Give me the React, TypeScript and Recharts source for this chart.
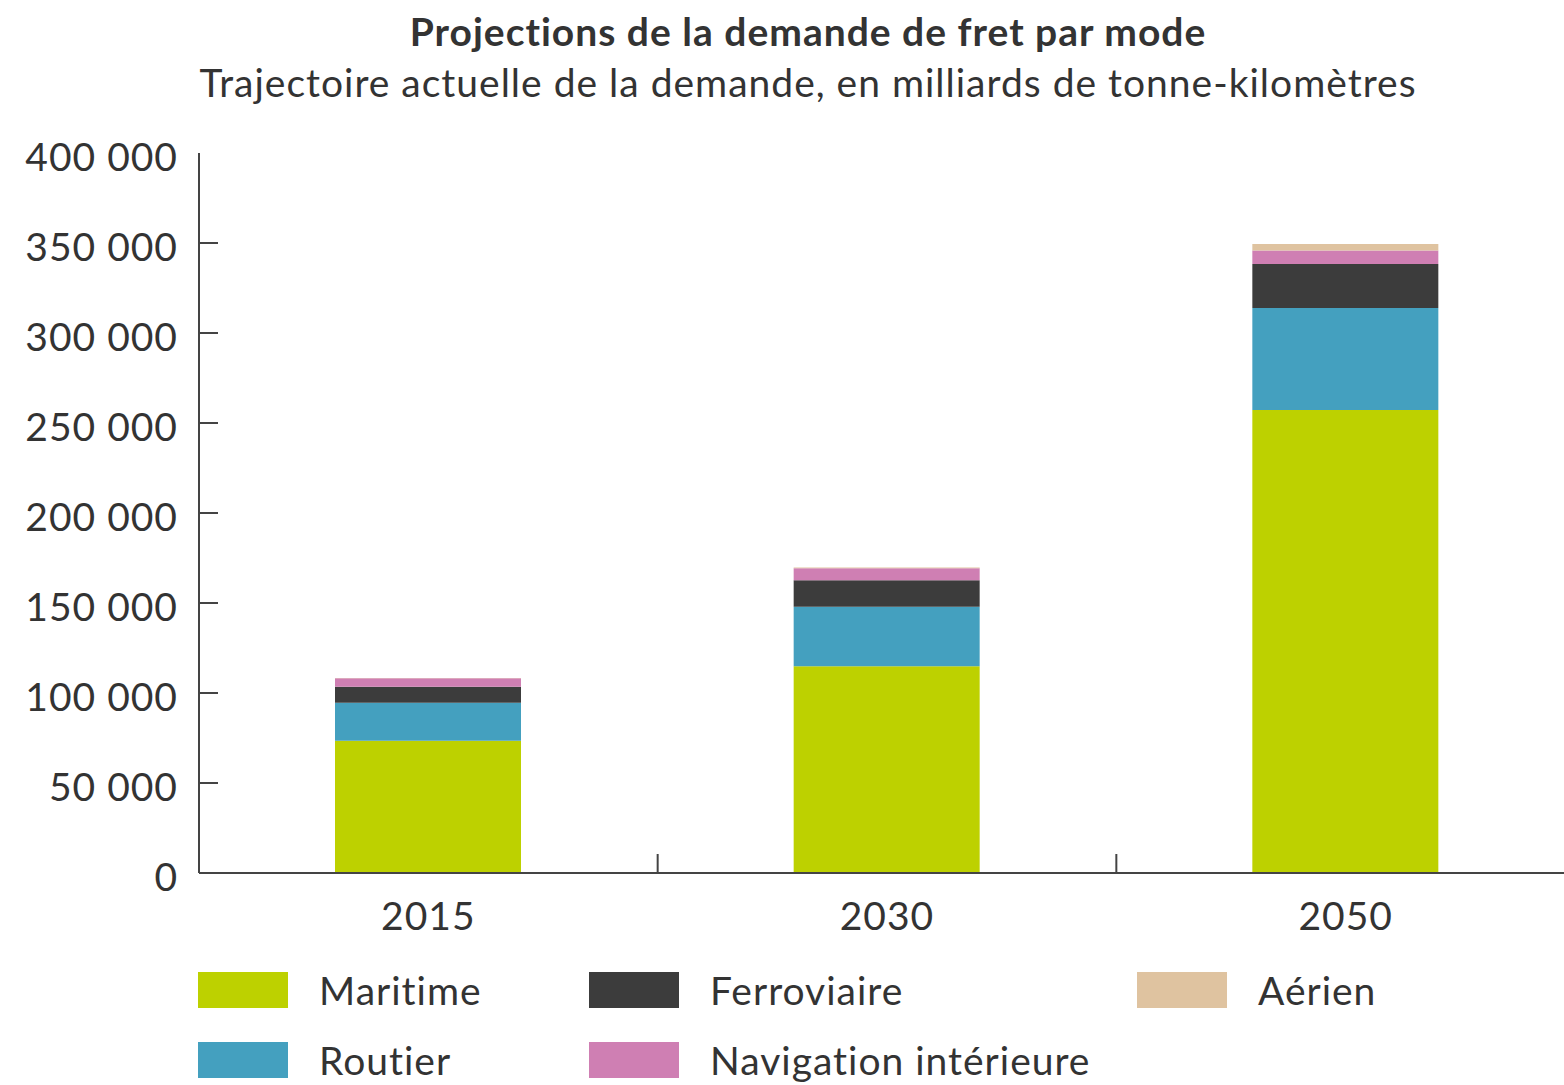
import React from 'react';
import { BarChart, Bar, XAxis, YAxis } from 'recharts';

const years = ['2015', '2030', '2050'];
const maritime = [73500, 114800, 257200];
const routier = [21100, 33100, 56700];
const ferroviaire = [8900, 14700, 24400];
const navigation = [4700, 6700, 7600];
const aerien = [200, 400, 3500];
const yTicks = [0, 50000, 100000, 150000, 200000, 250000, 300000, 350000, 400000];

const SERIES = [
  { key: 'maritime', name: 'Maritime', color: '#bdd100', values: maritime },
  { key: 'routier', name: 'Routier', color: '#44a0bf', values: routier },
  { key: 'ferroviaire', name: 'Ferroviaire', color: '#3c3c3c', values: ferroviaire },
  { key: 'navigation', name: 'Navigation intérieure', color: '#cf7fb3', values: navigation },
  { key: 'aerien', name: 'Aérien', color: '#dfc3a0', values: aerien },
];

// legend is laid out column by column, two rows
const LEGEND_ORDER = ['maritime', 'routier', 'ferroviaire', 'navigation', 'aerien'];

const data = years.map((year, i) => {
  const row: Record<string, string | number> = { year };
  SERIES.forEach((s) => {
    row[s.key] = s.values[i];
  });
  return row;
});

const FONT = 'Lato, "Open Sans", sans-serif';
const TEXT = '#333333';
const AXIS = '#444444';
const FONT_SIZE = 39;
const Y_MARGIN = 21;
const X_MARGIN = 29;
const TICK_LEN = 19;

const formatTick = (v: number) => (v === 0 ? '0' : `${Math.floor(v / 1000)} 000`);

// label outside, tick mark inside the plot (none on the top value)
const YTick = (props: any) => {
  const { x, y, payload, index, visibleTicksCount } = props;
  const axisX = x + Y_MARGIN;
  return (
    <g>
      {index < visibleTicksCount - 1 && (
        <line x1={axisX} x2={axisX + TICK_LEN} y1={y} y2={y} stroke={AXIS} strokeWidth={2} />
      )}
      <text
        x={x}
        y={y}
        dy={3}
        textAnchor="end"
        dominantBaseline="central"
        fontSize={FONT_SIZE}
        fontFamily={FONT}
        fill={TEXT}
        letterSpacing={1}
      >
        {formatTick(payload.value)}
      </text>
    </g>
  );
};

// year label, plus a tick mark on the right edge of each category band
const XTick = (props: any) => {
  const { x, y, payload, index, width, visibleTicksCount } = props;
  const axisY = y - X_MARGIN;
  const half = width / visibleTicksCount / 2;
  return (
    <g>
      {index < visibleTicksCount - 1 && (
        <line x1={x + half} x2={x + half} y1={axisY} y2={axisY - TICK_LEN} stroke={AXIS} strokeWidth={2} />
      )}
      <text
        x={x}
        y={y}
        dy="0.71em"
        textAnchor="middle"
        fontSize={FONT_SIZE}
        fontFamily={FONT}
        fill={TEXT}
        letterSpacing={1}
      >
        {payload.value}
      </text>
    </g>
  );
};

const App: React.FC = () => {
  return (
    <div
      style={{
        position: 'absolute',
        left: 0,
        top: 0,
        width: 1564,
        height: 1085,
        overflow: 'hidden',
        background: '#fff',
        fontFamily: FONT,
        color: TEXT,
      }}
    >
      <div style={{ position: 'absolute', top: 6, left: 0, width: 1616, textAlign: 'center', letterSpacing: 1 }}>
        <div style={{ fontSize: FONT_SIZE, fontWeight: 700, lineHeight: '50px' }}>
          Projections de la demande de fret par mode
        </div>
        <div style={{ fontSize: FONT_SIZE, lineHeight: '52px' }}>
          Trajectoire actuelle de la demande, en milliards de tonne-kilomètres
        </div>
      </div>

      <div style={{ position: 'absolute', left: 0, top: 0 }}>
        <BarChart
          width={1575}
          height={960}
          data={data}
          margin={{ top: 153, right: 0, left: 0, bottom: 0 }}
          barCategoryGap={0}
        >
          <XAxis
            dataKey="year"
            height={87}
            tickLine={false}
            tickSize={0}
            tickMargin={X_MARGIN}
            axisLine={{ stroke: AXIS, strokeWidth: 2 }}
            tick={<XTick />}
            interval={0}
          />
          <YAxis
            domain={[0, 400000]}
            ticks={yTicks}
            width={199}
            tickLine={false}
            tickSize={0}
            tickMargin={Y_MARGIN}
            axisLine={{ stroke: AXIS, strokeWidth: 2 }}
            tick={<YTick />}
            interval={0}
          />
          {SERIES.map((s) => (
            <Bar
              key={s.key}
              dataKey={s.key}
              name={s.name}
              stackId="a"
              fill={s.color}
              barSize={186}
              isAnimationActive={false}
            />
          ))}
        </BarChart>
      </div>

      <div
        style={{
          position: 'absolute',
          left: 198,
          top: 972,
          display: 'grid',
          gridTemplateColumns: '391px 548px 300px',
          gridTemplateRows: '70px 70px',
          gridAutoFlow: 'column',
          letterSpacing: 1,
        }}
      >
        {LEGEND_ORDER.map((k) => {
          const s = SERIES.find((x) => x.key === k)!;
          return (
            <div key={k} style={{ display: 'flex', alignItems: 'center', height: 36 }}>
              <span style={{ width: 90, height: 36, background: s.color, display: 'inline-block' }} />
              <span style={{ marginLeft: 31, fontSize: FONT_SIZE, lineHeight: '36px', whiteSpace: 'nowrap' }}>
                {s.name}
              </span>
            </div>
          );
        })}
      </div>
    </div>
  );
};

export default App;
